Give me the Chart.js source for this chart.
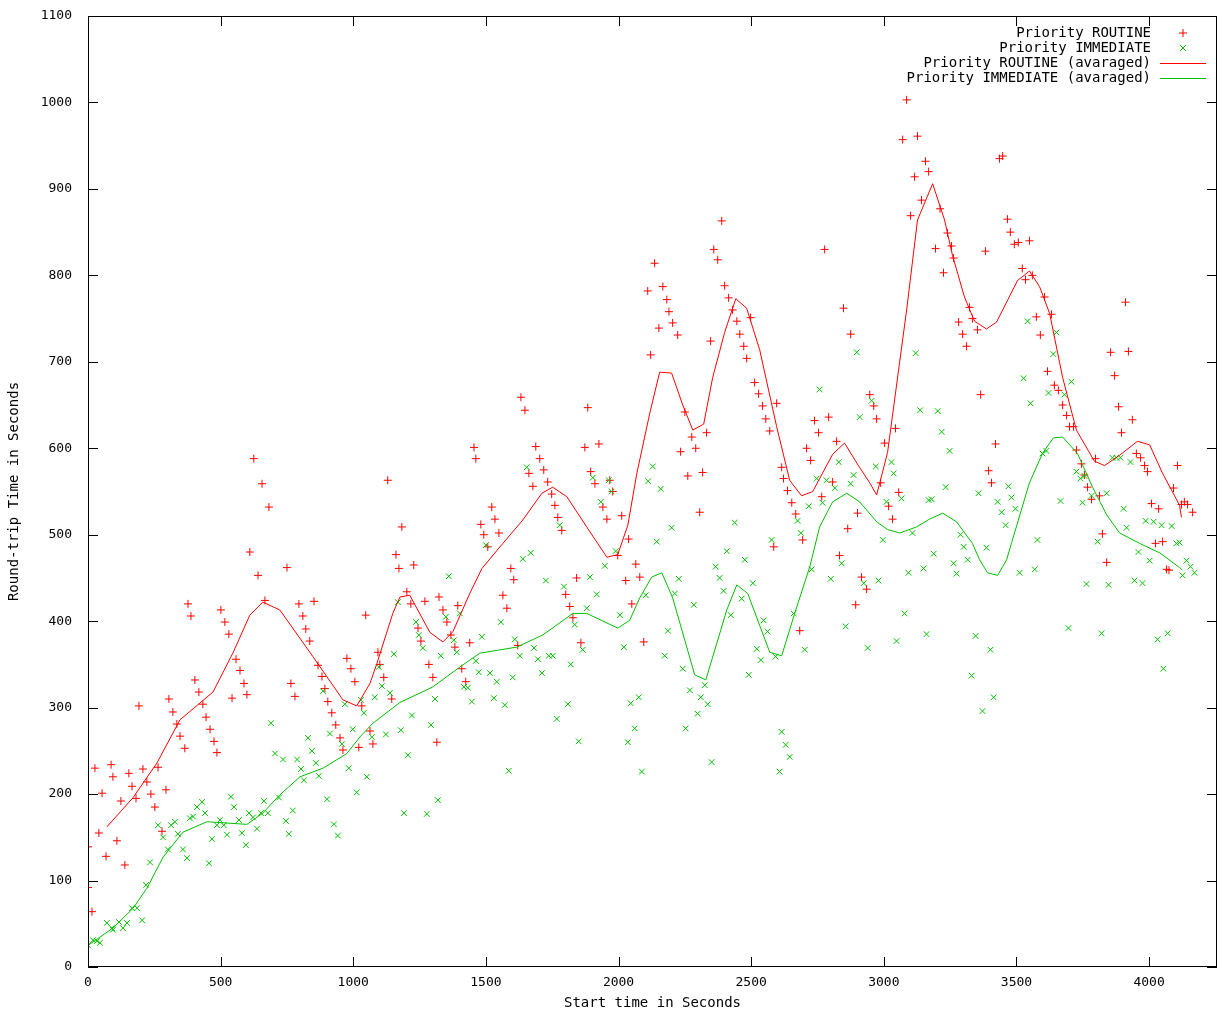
<!DOCTYPE html>
<html>
<head>
<meta charset="utf-8">
<title>Round-trip time</title>
<script src="https://cdn.jsdelivr.net/npm/chart.js@4.4.1/dist/chart.umd.min.js"></script>
<style>
  html, body { margin: 0; padding: 0; background: #fff; }
  canvas { display: block; }
</style>
</head>
<body>
<canvas id="rttChart" width="1218" height="1012"></canvas>
<script>
// axis ticks
const xTicks = [0, 500, 1000, 1500, 2000, 2500, 3000, 3500, 4000];
const yTicks = [0, 100, 200, 300, 400, 500, 600, 700, 800, 900, 1000, 1100];

// Priority ROUTINE samples [start time, round-trip]
const routinePoints = [
  [0,92],[0,139],[15,64],[26,230],[41,155],[53,201],[68,128],[87,234],[94,220],[109,146],
  [124,192],[139,118],[154,224],[166,209],[181,195],[192,302],[207,229],[222,214],[237,200],[252,185],
  [264,231],[279,157],[294,205],[305,310],[320,295],[335,281],[347,267],[365,253],[377,420],[388,406],
  [403,332],[418,318],[433,304],[445,289],[460,275],[475,261],[486,248],[501,413],[516,399],[531,385],
  [543,311],[558,356],[573,343],[588,328],[599,315],[610,480],[625,588],[641,453],[656,559],[667,424],
  [682,532],[750,462],[765,328],[780,313],[795,420],[810,406],[821,391],[836,377],[852,423],[867,349],
  [882,336],[893,322],[904,307],[919,294],[934,280],[950,265],[961,251],[976,357],[991,345],[1006,330],
  [1021,254],[1032,302],[1047,407],[1063,273],[1074,258],[1093,364],[1100,350],[1115,335],[1130,563],[1145,310],
  [1161,477],[1172,461],[1183,509],[1202,434],[1217,420],[1228,465],[1244,392],[1255,377],[1270,423],[1285,350],
  [1300,335],[1315,260],[1323,428],[1338,413],[1353,399],[1368,384],[1383,370],[1394,418],[1409,345],[1424,330],
  [1439,375],[1455,601],[1462,588],[1481,512],[1492,500],[1507,486],[1522,532],[1534,518],[1549,502],[1564,430],
  [1579,415],[1594,461],[1605,448],[1620,372],[1632,659],[1647,644],[1662,571],[1677,556],[1688,602],[1703,588],
  [1718,575],[1733,561],[1748,547],[1760,534],[1771,520],[1786,505],[1801,431],[1816,417],[1828,404],[1842,450],
  [1858,375],[1873,601],[1884,647],[1895,573],[1911,559],[1926,605],[1941,532],[1956,518],[1967,563],[1978,550],
  [1997,476],[2012,522],[2027,447],[2038,495],[2050,420],[2065,466],[2080,451],[2095,376],[2110,782],[2121,708],
  [2136,814],[2152,739],[2167,787],[2182,772],[2190,758],[2204,745],[2223,731],[2234,596],[2250,642],[2261,568],
  [2276,613],[2291,600],[2306,526],[2317,572],[2332,618],[2347,724],[2359,830],[2374,818],[2389,863],[2400,788],
  [2415,774],[2430,760],[2446,747],[2457,732],[2472,718],[2483,704],[2498,751],[2513,676],[2528,663],[2543,649],
  [2555,634],[2570,620],[2585,486],[2596,652],[2615,578],[2622,565],[2637,551],[2653,537],[2668,524],[2683,389],
  [2694,494],[2709,600],[2724,586],[2739,632],[2754,618],[2766,544],[2777,830],[2792,636],[2807,561],[2822,608],
  [2833,476],[2848,762],[2864,507],[2875,732],[2894,419],[2901,525],[2916,451],[2935,437],[2947,662],[2962,649],
  [2973,634],[2988,560],[3003,606],[3018,533],[3033,518],[3044,623],[3056,549],[3071,957],[3086,1003],[3101,869],
  [3116,914],[3127,961],[3142,887],[3157,932],[3169,920],[3195,831],[3212,877],[3225,803],[3240,849],[3255,834],
  [3263,820],[3282,746],[3297,732],[3312,718],[3323,763],[3334,750],[3353,737],[3365,662],[3383,828],[3395,574],
  [3406,560],[3421,605],[3436,935],[3448,938],[3466,865],[3477,850],[3492,836],[3507,838],[3522,808],[3534,795],
  [3549,840],[3560,800],[3575,752],[3590,731],[3606,775],[3617,689],[3632,755],[3643,673],[3658,667],[3674,650],
  [3689,638],[3700,625],[3715,625],[3726,598],[3745,582],[3756,569],[3768,555],[3783,541],[3798,588],[3813,545],
  [3824,501],[3840,468],[3855,711],[3870,684],[3885,648],[3896,618],[3911,769],[3922,712],[3937,633],[3952,594],
  [3968,589],[3983,580],[3994,573],[4009,536],[4024,490],[4036,530],[4051,492],[4066,460],[4075,459],[4092,554],
  [4107,580],[4122,535],[4133,538],[4145,535],[4164,526]
];

// Priority IMMEDIATE samples [start time, round-trip]
const immediatePoints = [
  [0,25],[19,31],[34,30],[45,28],[71,51],[90,45],[94,43],[117,52],[132,45],[147,51],
  [166,68],[185,68],[204,54],[219,95],[234,121],[264,164],[283,150],[301,136],[313,164],[328,168],
  [339,154],[358,136],[373,126],[384,172],[396,174],[411,185],[430,191],[441,178],[456,120],[467,148],
  [486,164],[497,170],[512,164],[524,153],[539,197],[550,185],[569,170],[580,155],[595,141],[607,178],
  [622,173],[637,160],[652,178],[663,192],[678,178],[690,282],[705,247],[720,196],[735,240],[746,169],
  [757,154],[772,181],[788,240],[803,229],[814,216],[829,265],[844,250],[859,236],[870,221],[886,319],
  [901,194],[912,270],[927,165],[942,152],[957,258],[968,304],[983,230],[998,275],[1013,202],[1029,309],
  [1040,294],[1051,220],[1070,266],[1081,312],[1096,347],[1108,325],[1123,269],[1138,317],[1153,362],[1168,422],
  [1179,274],[1191,178],[1206,245],[1221,291],[1236,399],[1247,384],[1262,369],[1277,177],[1293,280],[1308,310],
  [1319,193],[1330,360],[1349,405],[1360,452],[1379,378],[1390,364],[1402,409],[1417,324],[1432,323],[1447,307],
  [1462,354],[1473,341],[1485,382],[1500,488],[1515,340],[1530,311],[1541,330],[1556,399],[1571,303],[1586,227],
  [1601,335],[1609,379],[1628,360],[1639,472],[1654,578],[1669,479],[1681,369],[1696,356],[1711,340],[1726,447],
  [1737,360],[1752,360],[1767,287],[1778,511],[1794,440],[1809,304],[1820,350],[1835,396],[1850,261],[1865,367],
  [1880,415],[1892,451],[1903,566],[1918,431],[1933,538],[1948,464],[1963,563],[1974,550],[1989,481],[2005,407],
  [2020,370],[2035,260],[2046,305],[2061,276],[2076,312],[2088,226],[2103,430],[2112,562],[2129,579],[2144,492],
  [2159,553],[2174,360],[2186,389],[2200,508],[2212,432],[2227,449],[2242,345],[2253,276],[2269,320],[2284,419],
  [2298,293],[2310,312],[2325,326],[2336,304],[2351,237],[2366,463],[2381,450],[2396,435],[2408,481],[2423,407],
  [2438,514],[2464,426],[2476,471],[2491,338],[2506,444],[2521,368],[2536,355],[2547,401],[2562,388],[2577,494],
  [2592,359],[2607,226],[2615,272],[2630,257],[2645,243],[2660,409],[2675,516],[2687,502],[2702,367],[2717,533],
  [2728,460],[2747,565],[2758,668],[2769,537],[2784,563],[2800,449],[2815,554],[2830,584],[2841,467],[2856,394],
  [2875,559],[2886,569],[2898,711],[2909,636],[2924,444],[2939,369],[2954,655],[2970,579],[2980,447],[2996,494],
  [3010,538],[3029,584],[3037,571],[3048,377],[3067,542],[3078,409],[3093,456],[3108,502],[3120,710],[3137,644],
  [3150,461],[3161,385],[3169,540],[3180,541],[3188,478],[3203,643],[3218,619],[3233,555],[3248,597],[3263,467],
  [3274,455],[3289,500],[3301,486],[3316,471],[3331,337],[3346,383],[3357,548],[3372,296],[3387,485],[3402,367],
  [3414,312],[3429,538],[3444,526],[3459,511],[3470,556],[3481,543],[3496,530],[3512,456],[3527,681],[3542,747],
  [3553,652],[3569,460],[3579,494],[3598,594],[3613,597],[3621,664],[3639,709],[3651,734],[3666,539],[3681,662],
  [3696,392],[3707,677],[3726,573],[3741,565],[3749,537],[3756,568],[3764,443],[3783,545],[3806,492],[3821,386],
  [3840,548],[3847,442],[3862,589],[3877,589],[3892,589],[3904,530],[3915,508],[3930,584],[3945,447],[3960,480],
  [3975,444],[3987,516],[4002,470],[4017,515],[4032,379],[4047,511],[4054,345],[4070,386],[4085,510],[4103,490],
  [4115,491],[4126,453],[4141,470],[4156,463],[4171,456]
];

// averaged curves
const routineAvg = [
  [71,162],[170,196],[260,236],[347,286],[471,318],[546,363],[610,407],[659,422],[723,413],[848,359],
  [961,309],[1013,302],[1063,328],[1089,351],[1149,409],[1176,428],[1213,430],[1289,387],[1338,376],[1376,388],
  [1439,432],[1485,461],[1564,490],[1639,517],[1711,548],[1752,555],[1805,544],[1880,509],[1956,474],[1997,477],
  [2035,511],[2069,571],[2118,641],[2155,688],[2200,687],[2242,650],[2280,621],[2321,628],[2355,682],[2400,734],
  [2442,773],[2483,762],[2532,714],[2596,625],[2645,563],[2690,545],[2732,550],[2807,593],[2852,606],[2898,583],
  [2947,560],[2973,546],[3014,595],[3086,760],[3127,864],[3184,906],[3229,864],[3259,823],[3304,775],[3342,747],
  [3387,738],[3425,746],[3504,794],[3549,805],[3587,787],[3625,756],[3674,682],[3726,621],[3794,585],[3832,580],
  [3889,592],[3956,608],[4002,604],[4051,571],[4115,534],[4122,520]
];

const immediateAvg = [
  [0,25],[94,45],[170,68],[222,91],[283,127],[358,156],[448,168],[599,165],[659,178],[723,199],
  [799,220],[886,230],[976,247],[1025,266],[1074,282],[1176,306],[1300,324],[1402,347],[1477,363],[1616,370],
  [1714,384],[1828,409],[1880,409],[1997,392],[2042,401],[2080,427],[2125,451],[2163,456],[2204,427],[2287,338],
  [2329,332],[2408,413],[2446,442],[2487,432],[2570,364],[2615,360],[2664,409],[2721,463],[2758,509],[2807,538],
  [2860,548],[2909,538],[2973,515],[3014,506],[3060,502],[3123,509],[3172,518],[3222,525],[3274,515],[3334,490],
  [3361,471],[3391,456],[3429,453],[3463,471],[3481,490],[3549,560],[3598,594],[3639,612],[3674,613],[3730,594],
  [3787,555],[3840,523],[3889,502],[3964,490],[4040,479],[4115,462],[4126,459]
];

const toXY = (arr) => arr.map(([x, y]) => ({ x: x, y: y }));

const RED = "#ff0000";
const GREEN = "#00c000";
const MONO = "'DejaVu Sans Mono', 'Liberation Mono', monospace";

// 枠線・内向き目盛り・凡例 (gnuplot風)
const gnuplotFrame = {
    id: "gnuplotFrame",
    afterDraw(chart) {
        const ctx = chart.ctx;
        const area = chart.chartArea;
        const xs = chart.scales.x;
        const ys = chart.scales.y;
        const tick = 10;

        ctx.save();
        ctx.strokeStyle = "#000";
        ctx.lineWidth = 1;
        ctx.strokeRect(area.left + 0.5, area.top + 0.5, area.right - area.left - 1, area.bottom - area.top - 1);

        ctx.beginPath();
        xTicks.forEach((v) => {
            const px = Math.round(xs.getPixelForValue(v)) + 0.5;
            ctx.moveTo(px, area.bottom);
            ctx.lineTo(px, area.bottom - tick);
            ctx.moveTo(px, area.top);
            ctx.lineTo(px, area.top + tick);
        });
        yTicks.forEach((v) => {
            const py = Math.round(ys.getPixelForValue(v)) + 0.5;
            ctx.moveTo(area.left, py);
            ctx.lineTo(area.left + tick, py);
            ctx.moveTo(area.right, py);
            ctx.lineTo(area.right - tick, py);
        });
        ctx.stroke();

        // legend
        const rows = chart.data.datasets.map((ds) => ds).sort((a, b) => a.legendRow - b.legendRow);
        ctx.font = "14px " + MONO;
        ctx.fillStyle = "#000";
        ctx.textAlign = "right";
        ctx.textBaseline = "middle";
        rows.forEach((ds, i) => {
            const y = 33 + i * 15;
            ctx.fillText(ds.label, 1151, y);
            if (ds.showLine) {
                ctx.strokeStyle = ds.borderColor;
                ctx.beginPath();
                ctx.moveTo(1160, y + 0.5);
                ctx.lineTo(1206, y + 0.5);
                ctx.stroke();
            } else {
                ctx.strokeStyle = ds.borderColor;
                ctx.fillStyle = ds.borderColor;
                Chart.helpers.drawPoint(ctx, {
                    pointStyle: ds.pointStyle,
                    radius: ds.pointRadius,
                    rotation: 0,
                    borderWidth: 1,
                }, 1183, y);
                ctx.fillStyle = "#000";
            }
        });
        ctx.restore();
    },
};

const ctx = document.getElementById("rttChart").getContext("2d");

const rttChart = new Chart(ctx, {
    type: "scatter",
    data: {
        datasets: [
            {
                label: "Priority IMMEDIATE (avaraged)",
                data: toXY(immediateAvg),
                showLine: true,
                borderColor: GREEN,
                borderWidth: 1,
                pointRadius: 0,
                tension: 0,
                order: 0,
                legendRow: 3,
            },
            {
                label: "Priority ROUTINE (avaraged)",
                data: toXY(routineAvg),
                showLine: true,
                borderColor: RED,
                borderWidth: 1,
                pointRadius: 0,
                tension: 0,
                order: 1,
                legendRow: 2,
            },
            {
                label: "Priority IMMEDIATE",
                data: toXY(immediatePoints),
                pointStyle: "crossRot",
                pointRadius: 4,
                borderColor: GREEN,
                backgroundColor: GREEN,
                borderWidth: 1,
                order: 2,
                legendRow: 1,
            },
            {
                label: "Priority ROUTINE",
                data: toXY(routinePoints),
                pointStyle: "cross",
                pointRadius: 4,
                borderColor: RED,
                backgroundColor: RED,
                borderWidth: 1,
                order: 3,
                legendRow: 0,
            },
        ],
    },
    options: {
        responsive: false,
        animation: false,
        devicePixelRatio: 1,
        layout: {
            autoPadding: false,
            padding: { left: 0, top: 16, right: 1, bottom: 0 },
        },
        plugins: {
            legend: { display: false },
            tooltip: { enabled: false },
        },
        scales: {
            x: {
                type: "linear",
                min: 0,
                max: 4256,
                afterBuildTicks: (scale) => {
                    scale.ticks = xTicks.map((v) => ({ value: v }));
                },
                afterFit: (scale) => {
                    scale.height = 45;
                    scale.paddingLeft = 0;
                    scale.paddingRight = 0;
                },
                grid: { display: false, drawTicks: false },
                border: { display: false },
                ticks: {
                    color: "#000",
                    padding: 8,
                    maxRotation: 0,
                    font: { family: MONO, size: 13 },
                    callback: (value) => String(value),
                },
                title: {
                    display: true,
                    text: "Start time in Seconds",
                    color: "#000",
                    font: { family: MONO, size: 14 },
                    padding: { top: 0, bottom: 0 },
                },
            },
            y: {
                type: "linear",
                min: 0,
                max: 1100,
                afterBuildTicks: (scale) => {
                    scale.ticks = yTicks.map((v) => ({ value: v }));
                },
                afterFit: (scale) => {
                    scale.width = 88;
                    scale.paddingTop = 0;
                    scale.paddingBottom = 0;
                },
                grid: { display: false, drawTicks: false },
                border: { display: false },
                ticks: {
                    color: "#000",
                    padding: 16,
                    font: { family: MONO, size: 13 },
                    callback: (value) => String(value),
                },
                title: {
                    display: true,
                    text: "Round-trip Time in Seconds",
                    color: "#000",
                    font: { family: MONO, size: 14 },
                    padding: { top: 6, bottom: 0 },
                },
            },
        },
    },
    plugins: [gnuplotFrame],
});
</script>
</body>
</html>
